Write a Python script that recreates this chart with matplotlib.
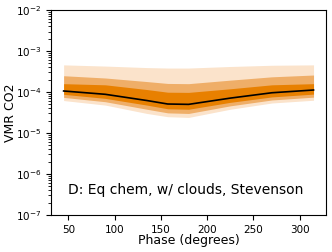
import matplotlib
matplotlib.use("Agg")
import matplotlib.pyplot as plt

# phase points and CO2 VMR percentiles
phase = [45, 90, 135, 157.5, 180, 225, 270, 315]
median = [1.06e-4, 8.8e-5, 6.2e-5, 5.1e-5, 5.0e-5, 7.1e-5, 9.6e-5, 1.12e-4]

# 1-sigma band
s1_lo = [8.8e-5, 7.0e-5, 4.8e-5, 3.9e-5, 3.8e-5, 5.6e-5, 7.6e-5, 8.9e-5]
s1_hi = [1.6e-4, 1.5e-4, 1.15e-4, 9.9e-5, 9.8e-5, 1.2e-4, 1.5e-4, 1.6e-4]
# 2-sigma band
s2_lo = [7.4e-5, 5.8e-5, 3.8e-5, 3.1e-5, 3.0e-5, 4.6e-5, 6.4e-5, 7.5e-5]
s2_hi = [2.5e-4, 2.2e-4, 1.8e-4, 1.62e-4, 1.6e-4, 1.95e-4, 2.35e-4, 2.6e-4]
# 3-sigma band
s3_lo = [6.2e-5, 4.8e-5, 3.0e-5, 2.5e-5, 2.4e-5, 3.8e-5, 5.4e-5, 6.3e-5]
s3_hi = [4.6e-4, 4.3e-4, 3.95e-4, 3.85e-4, 3.85e-4, 4.2e-4, 4.5e-4, 4.6e-4]

fig = plt.figure(figsize=(3.32, 2.52), dpi=100)
ax = fig.add_axes([0.154, 0.147, 0.828, 0.813])

ax.fill_between(phase, s3_lo, s3_hi, color='#fbe3cb', lw=0)
ax.fill_between(phase, s2_lo, s2_hi, color='#efae68', lw=0)
ax.fill_between(phase, s1_lo, s1_hi, color='#e88000', lw=0)
ax.plot(phase, median, color='black', lw=1.2)

ax.set_yscale('log')
ax.set_ylim(1e-7, 1e-2)
ax.set_xticks([50, 100, 150, 200, 250, 300])
ax.tick_params(labelsize=7.5)
ax.set_xlabel("Phase (degrees)", fontsize=9)
ax.set_ylabel("VMR CO2", fontsize=9)
ax.xaxis.set_label_coords(0.5, -0.093)
ax.yaxis.set_label_coords(-0.124, 0.5)

ax.text(0.49, 0.12, "D: Eq chem, w/ clouds, Stevenson", transform=ax.transAxes,
        ha='center', va='center', fontsize=10)

fig.savefig("out.png", dpi=100)
